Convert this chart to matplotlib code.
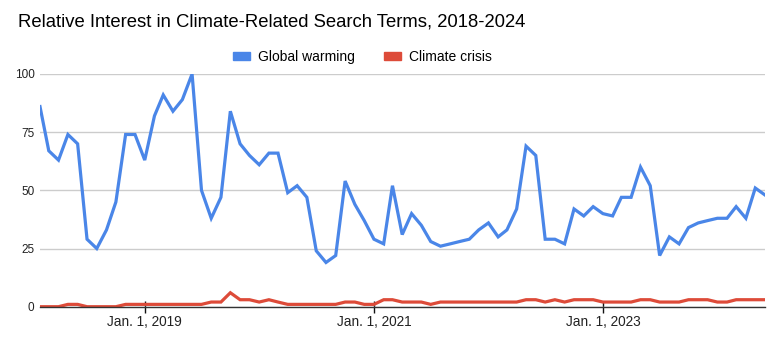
import matplotlib
matplotlib.use("Agg")
import matplotlib.pyplot as plt
from matplotlib.patches import Patch
import pandas as pd
import datetime as dt

# monthly relative interest, Feb 2018 - Jun 2024
months = pd.date_range("2018-02-01", periods=77, freq="MS")
global_warming = [86, 67, 63, 74, 70, 29, 25, 33, 45, 74, 74, 63,
                  82, 91, 84, 89, 100, 50, 38, 47, 84, 70, 65, 61,
                  66, 66, 49, 52, 47, 24, 19, 22, 54, 44, 37, 29,
                  27, 52, 31, 40, 35, 28, 26, 27, 28, 29, 33, 36,
                  30, 33, 42, 69, 65, 29, 29, 27, 42, 39, 43, 40,
                  39, 47, 47, 60, 52, 22, 30, 27, 34, 36, 37, 38,
                  38, 43, 38, 51, 48]
climate_crisis = [0, 0, 0, 1, 1, 0, 0, 0, 0, 1, 1, 1,
                  1, 1, 1, 1, 1, 1, 2, 2, 6, 3, 3, 2,
                  3, 2, 1, 1, 1, 1, 1, 1, 2, 2, 1, 1,
                  3, 3, 2, 2, 2, 1, 2, 2, 2, 2, 2, 2,
                  2, 2, 2, 3, 3, 2, 3, 2, 3, 3, 3, 2,
                  2, 2, 2, 3, 3, 2, 2, 2, 3, 3, 3, 2,
                  2, 3, 3, 3, 3]
tick_dates = [dt.datetime(2019, 1, 1), dt.datetime(2021, 1, 1), dt.datetime(2023, 1, 1)]
tick_labels = ["Jan. 1, 2019", "Jan. 1, 2021", "Jan. 1, 2023"]

plt.rcParams['font.family'] = ['Liberation Sans', 'DejaVu Sans']

blue = '#4a86e8'
red = '#dd4b39'

fig = plt.figure(figsize=(7.8, 3.41), dpi=100)
ax = fig.add_axes([40/780, 1 - 306.7/341, 725/780, (306.7 - 74)/341])

ax.plot(months, global_warming, color=blue, lw=2.3, solid_joinstyle='miter', zorder=3)
ax.plot(months, climate_crisis, color=red, lw=2.3, solid_joinstyle='miter', zorder=3)

ax.set_ylim(0, 100)
ax.set_yticks([0, 25, 50, 75, 100])
ax.set_xlim(months[0], months[-1])
ax.set_xticks(tick_dates)
ax.set_xticklabels(tick_labels)

ax.grid(axis='y', color='#cccccc', lw=1)
ax.set_axisbelow(True)
for s in ['left', 'right', 'top']:
    ax.spines[s].set_visible(False)
ax.spines['bottom'].set_color('#333333')
ax.spines['bottom'].set_linewidth(1)
ax.spines['bottom'].set_zorder(4)

ax.tick_params(axis='y', length=0, pad=4, labelsize=8.5, labelcolor='#222222')
ax.tick_params(axis='x', direction='inout', length=8.4, width=1, color='#111111',
               pad=2, labelsize=9.8, labelcolor='#222222')

fig.text(18/780, 1 - 22/341, "Relative Interest in Climate-Related Search Terms, 2018-2024",
         fontsize=13.3, ha='left', va='center', color='#000000')

handles = [Patch(color=blue, label='Global warming'), Patch(color=red, label='Climate crisis')]
fig.legend(handles=handles, loc='center', bbox_to_anchor=(362.5/780, 1 - 57/341),
           ncol=2, frameon=False, fontsize=10, handlelength=1.2, handleheight=0.5,
           handletextpad=0.6, columnspacing=2.1, borderpad=0, borderaxespad=0)

fig.savefig("out.png", dpi=100)
